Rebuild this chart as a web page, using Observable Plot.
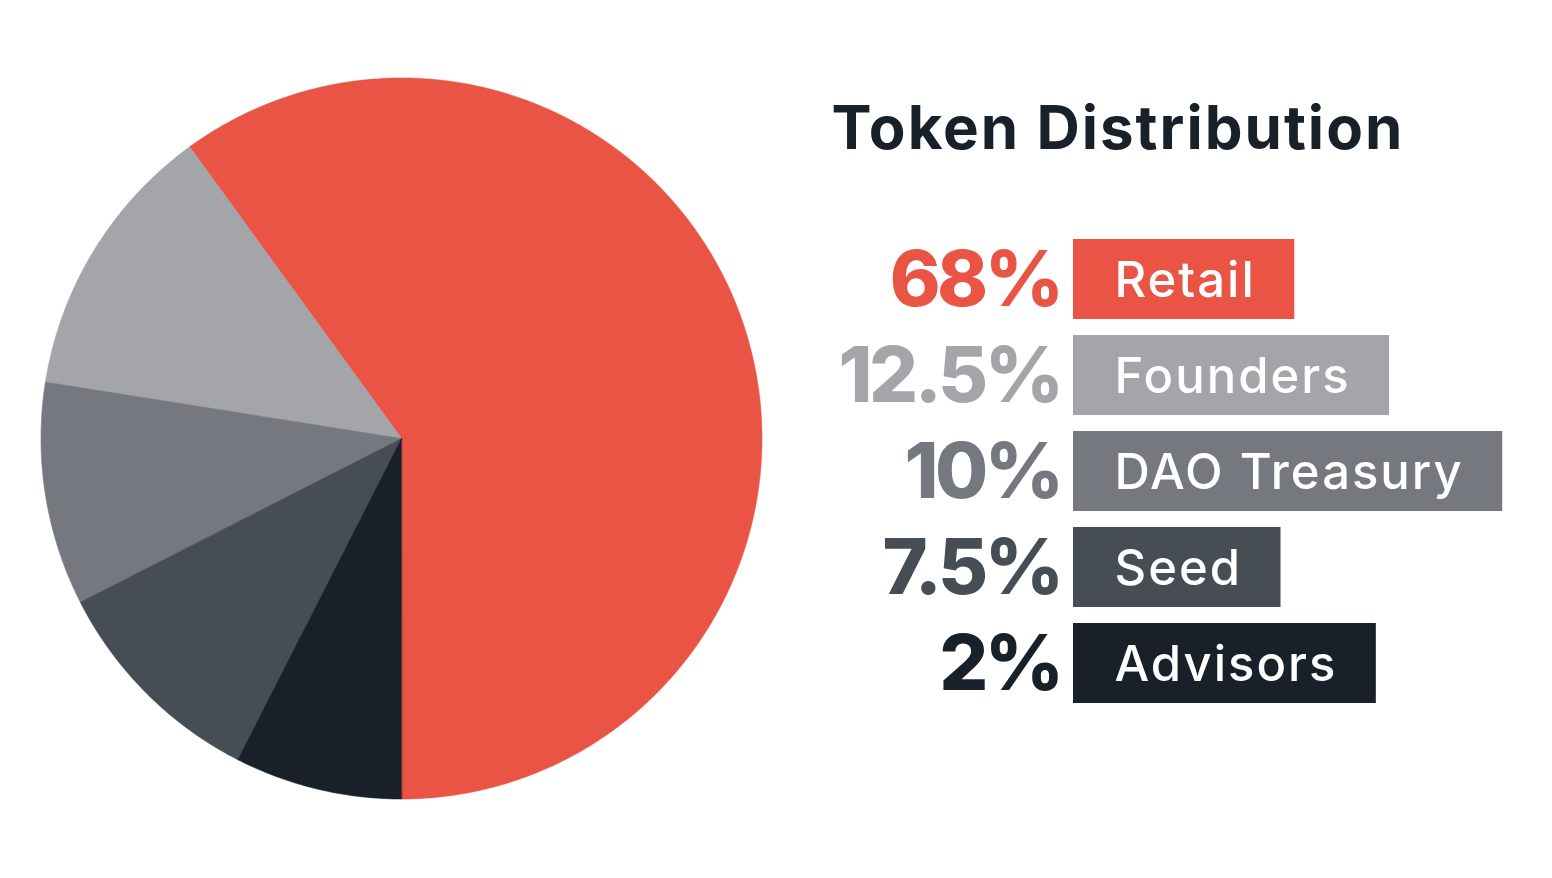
<!DOCTYPE html>
<html><head><meta charset="utf-8">
<script src="https://cdn.jsdelivr.net/npm/d3@7"></script>
<script src="https://cdn.jsdelivr.net/npm/@observablehq/plot@0.6"></script>
<style>
html,body{margin:0;padding:0;background:#fff;}
#chart{position:relative;width:1552px;height:878px;overflow:hidden;background:#fff;}
#pie{position:absolute;left:0;top:0;}
#legend{position:absolute;left:802px;top:0;}
</style></head><body><div id="chart"><div id="pie"></div><div id="legend"></div></div>
<script>
const title = "Token Distribution";
const categories = ["Retail", "Founders", "DAO Treasury", "Seed", "Advisors"];
const percentLabels = ["68%", "12.5%", "10%", "7.5%", "2%"];
// slice sizes as actually drawn in the reference pie
const sliceShares = [60, 12.5, 10, 10, 7.5];
const colors = ["#E95445", "#A3A5A9", "#75797F", "#464D55", "#18202A"];

const FONT = "Inter, 'Open Sans', sans-serif";

// ---- pie: slices as closed polygons computed from the shares ----
const total = d3.sum(sliceShares);
const pts = [];
let acc = 0;
categories.forEach((name, i) => {
  const a0 = -Math.PI / 2 + 2 * Math.PI * acc / total;
  acc += sliceShares[i];
  const a1 = -Math.PI / 2 + 2 * Math.PI * acc / total;
  pts.push({name, x: 0, y: 0});
  const n = Math.max(2, Math.ceil((a1 - a0) / (Math.PI / 360)));
  for (let k = 0; k <= n; k++) {
    const a = a0 + (a1 - a0) * k / n;
    pts.push({name, x: Math.cos(a), y: Math.sin(a)});
  }
});

const pie = Plot.plot({
  width: 802, height: 878, margin: 0,
  style: {fontFamily: FONT, background: "white"},
  x: {domain: [-1, 1], range: [40.5, 761.5], axis: null},
  y: {domain: [-1, 1], range: [798.5, 77.5], axis: null},
  color: {domain: categories, range: colors},
  marks: [
    Plot.line(pts, {x: "x", y: "y", z: "name", fill: "name", stroke: "name", strokeWidth: 0.6, curve: "linear-closed"})
  ]
});
document.getElementById("pie").append(pie);

// ---- legend: boxes sized to their label text ----
const labelSize = 49, labelWeight = 500, labelSpacing = 2;
const ctx = document.createElement("canvas").getContext("2d");
ctx.font = `${labelWeight} ${labelSize}px ${FONT}`;
const rows = categories.map((name, i) => ({
  name, pct: percentLabels[i],
  len: ctx.measureText(name).width + name.length * labelSpacing + 42 + 38
}));

const legend = Plot.plot({
  width: 750, height: 878, margin: 0,
  style: {fontFamily: FONT, background: "transparent"},
  x: {type: "linear", domain: [0, 479], range: [271, 750], axis: null},
  y: {domain: categories, range: [237.3, 705.7], paddingInner: 0.165, paddingOuter: 0, axis: null},
  color: {domain: categories, range: colors},
  marks: [
    Plot.text([title], {frameAnchor: "top-left", lineAnchor: "top", dx: 29, dy: 106, fontSize: 60, fontWeight: 700, fill: "#18202A", textAnchor: "start"}),
    Plot.barX(rows, {x1: 0, x2: "len", y: "name", fill: "name"}),
    Plot.text(rows, {x: 0, y: "name", text: "pct", dx: -13, dy: 2, textAnchor: "end", fill: "name", fontSize: 77, fontWeight: 800}),
    Plot.text(rows, {x: 0, y: "name", text: "name", dx: 41, dy: 2, textAnchor: "start", fill: "white", fontSize: labelSize, fontWeight: labelWeight})
  ]
});
const textGroups = legend.querySelectorAll('g[aria-label="text"]');
const spacings = ["2px", "-3.5px", `${labelSpacing}px`];
textGroups.forEach((g, i) => g.setAttribute("letter-spacing", spacings[i]));
document.getElementById("legend").append(legend);
</script></body></html>
